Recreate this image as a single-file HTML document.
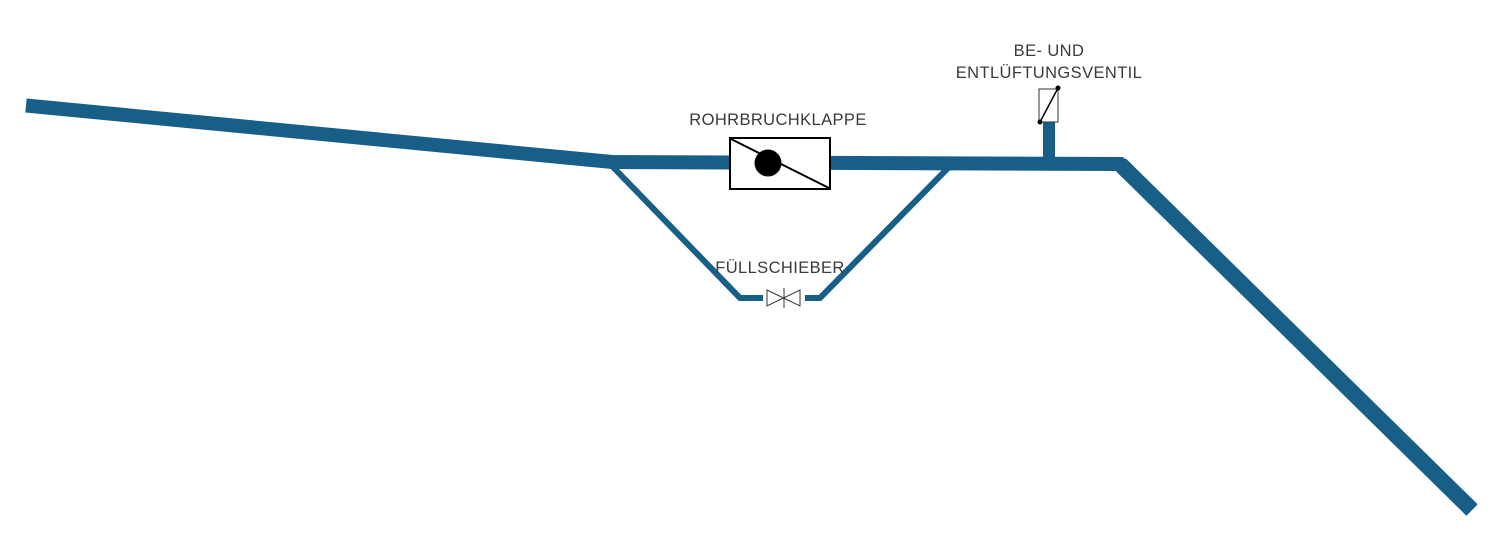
<!DOCTYPE html>
<html><head><meta charset="utf-8"><style>
html,body{margin:0;padding:0;background:#fff;width:1500px;height:538px;overflow:hidden}
text{font-family:"Liberation Sans",sans-serif;fill:#3a3a3a;font-size:16.5px;letter-spacing:0.4px}
</style></head><body>
<svg width="1500" height="538" viewBox="0 0 1500 538" xmlns="http://www.w3.org/2000/svg">
<g stroke="#175f86" fill="none">
<polyline points="26,105.5 612,162 1120,164 1472,510" stroke-width="14" stroke-linejoin="miter" stroke-miterlimit="10"/>
<line x1="1120" y1="164" x2="1472" y2="510" stroke-width="16"/>
<polyline points="612,166 740,298 820,298 948,168" stroke-width="6" stroke-linejoin="miter"/>
<line x1="1049" y1="120" x2="1049" y2="162" stroke-width="12"/>
</g>
<rect x="730" y="138" width="100" height="51" fill="#fff" stroke="#000" stroke-width="2"/>
<line x1="731" y1="139" x2="829" y2="188" stroke="#000" stroke-width="2"/>
<circle cx="768" cy="163" r="13.5" fill="#000"/>
<rect x="763" y="289" width="42" height="18" fill="#fff"/>
<path d="M767,290 L800,306 L800,290 L767,306 Z" fill="#fff" stroke="#333" stroke-width="1"/>
<line x1="784" y1="288" x2="784" y2="308" stroke="#333" stroke-width="1"/>
<rect x="1039" y="89" width="19" height="33" fill="#fff" stroke="#333" stroke-width="1"/>
<line x1="1040" y1="122" x2="1058" y2="88" stroke="#000" stroke-width="1.5"/>
<circle cx="1058" cy="88" r="2.5" fill="#000"/>
<circle cx="1040" cy="122" r="2.5" fill="#000"/>
<text x="778" y="125" text-anchor="middle">ROHRBRUCHKLAPPE</text>
<text x="780" y="273" text-anchor="middle">FÜLLSCHIEBER</text>
<text x="1049" y="56" text-anchor="middle">BE- UND</text>
<text x="1049" y="78" text-anchor="middle">ENTLÜFTUNGSVENTIL</text>
</svg>
</body></html>
